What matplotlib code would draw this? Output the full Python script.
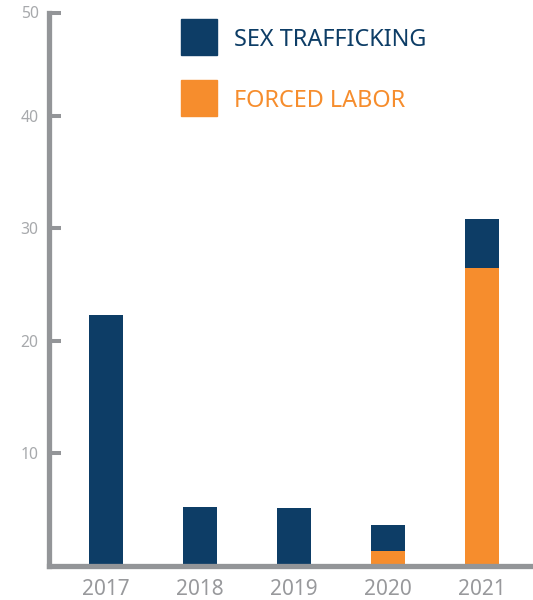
import matplotlib.pyplot as plt
from matplotlib.patches import Rectangle
import numpy as np

years = ['2017', '2018', '2019', '2020', '2021']
forced_labor = [0, 0, 0, 1.3, 26.5]
sex_trafficking = [22.3, 5.2, 5.1, 2.3, 4.3]
ytick_vals = [10, 20, 30, 40, 49.2]
ytick_labels = ['10', '20', '30', '40', '50']
series_names = ['SEX TRAFFICKING', 'FORCED LABOR']

blue = '#0d3d66'
orange = '#f68d2d'
grey = '#939598'

plt.rcParams['font.family'] = ['Noto Sans', 'DejaVu Sans']

W, H = 533, 600
fig = plt.figure(figsize=(5.33, 6.0), dpi=100)
ax = fig.add_axes([49 / W, 34.5 / H, 1 - 49 / W, 553 / H])

x = np.arange(len(years))
ax.bar(x, forced_labor, width=0.36, color=orange)
ax.bar(x, sex_trafficking, width=0.36, bottom=forced_labor, color=blue)

ax.set_xlim(-0.606, 4.543)
ax.set_ylim(0, 49.2)
ax.set_xticks(x, years)
ax.set_yticks(ytick_vals, ytick_labels)

for s in ['top', 'right']:
    ax.spines[s].set_visible(False)
for s in ['left', 'bottom']:
    ax.spines[s].set_color(grey)
    ax.spines[s].set_linewidth(3.8)
    ax.spines[s].set_capstyle('projecting')

ax.tick_params(axis='y', direction='in', length=8.6, width=2.9, color=grey,
               labelcolor='#a7a9ac', labelsize=11.3, pad=7.5)
ax.tick_params(axis='x', length=0, labelcolor='#98999c', labelsize=15, pad=10)

# legend drawn by hand: squares + coloured labels
for i, (name, c) in enumerate(zip(series_names, [blue, orange])):
    top = 19 + i * 61
    fig.add_artist(Rectangle((181 / W, 1 - (top + 36) / H), 36 / W, 36 / H,
                             transform=fig.transFigure, color=c))
    fig.text(234 / W, 1 - (top + 18) / H, name, color=c, fontsize=16.9,
             va='center_baseline', ha='left')

plt.savefig('out.png', dpi=100)
